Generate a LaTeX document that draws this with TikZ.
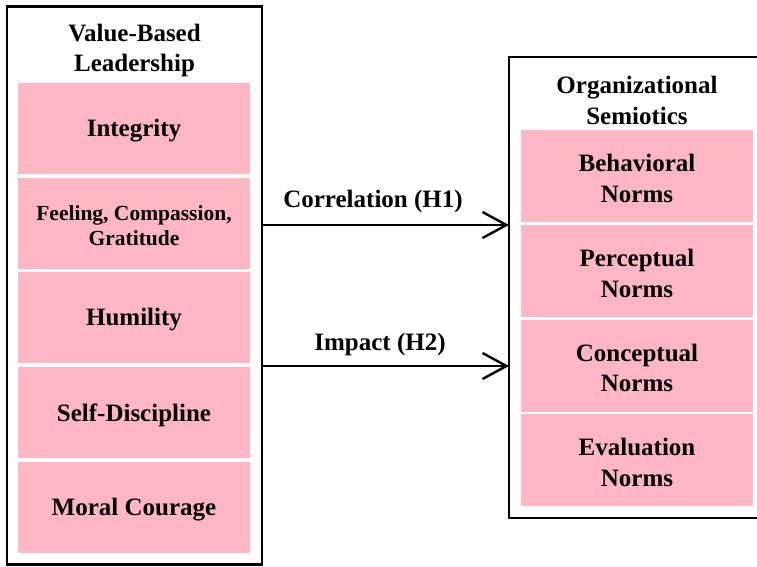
\documentclass[tikz,border=0pt]{standalone}
\usepackage{fontspec}
\setmainfont{Liberation Serif}
\usetikzlibrary{arrows.meta}
\definecolor{boxpink}{RGB}{255,183,195}
\tikzset{
  frame/.style={draw=black, line width=2.6pt, fill=white, inner sep=0pt, outer sep=0pt},
  item/.style={fill=boxpink, draw=none, inner sep=0pt, outer sep=0pt},
  itemtext/.style={align=center, inner sep=0pt, yshift=-2.5pt,
    font=\fontsize{25}{30.5}\selectfont\bfseries},
  small/.style={font=\fontsize{21.5}{24.5}\selectfont\bfseries},
  heading/.style={align=center, inner sep=0pt, font=\fontsize{25}{30.5}\selectfont\bfseries},
  link/.style={line width=2.4pt, -{Straight Barb[length=24pt,width=26pt,line width=2.4pt]}},
  linklabel/.style={inner sep=0pt, font=\fontsize{25}{30}\selectfont\bfseries}
}
\begin{document}
\begin{tikzpicture}[x=1pt,y=-1pt]
\useasboundingbox (0,0) rectangle (757,566);
\clip (0,0) rectangle (757,566);
\fill[white] (0,0) rectangle (757,566);

% left frame: value-based leadership
\node[frame, minimum width=255pt, minimum height=558pt] (vbl) at (134.5,285.5) {};
\node[heading] (vblt) at (134.5,50.5) {Value-Based\\Leadership};
\node[item, minimum width=232pt, minimum height=91pt,
  label={[itemtext]center:Integrity}] (i1) at (134,128.5) {};
\node[item, minimum width=232pt, minimum height=91pt,
  label={[itemtext, small]center:Feeling, Compassion,\\Gratitude}] (i2) at (134,223) {};
\node[item, minimum width=232pt, minimum height=91pt,
  label={[itemtext]center:Humility}] (i3) at (134,317.5) {};
\node[item, minimum width=232pt, minimum height=91pt,
  label={[itemtext]center:Self-Discipline}] (i4) at (134,412.5) {};
\node[item, minimum width=232pt, minimum height=91pt,
  label={[itemtext]center:Moral Courage}] (i5) at (134,507.5) {};

% right frame: organizational semiotics
\node[frame, minimum width=262pt, minimum height=461pt] (os) at (640,287.5) {};
\node[heading] (ost) at (637,100.5) {Organizational\\Semiotics};
\node[item, minimum width=232pt, minimum height=92pt,
  label={[itemtext]center:Behavioral\\Norms}] (n1) at (637,176) {};
\node[item, minimum width=232pt, minimum height=92pt,
  label={[itemtext]center:Perceptual\\Norms}] (n2) at (637,271) {};
\node[item, minimum width=232pt, minimum height=92pt,
  label={[itemtext]center:Conceptual\\Norms}] (n3) at (637,365.5) {};
\node[item, minimum width=232pt, minimum height=92pt,
  label={[itemtext]center:Evaluation\\Norms}] (n4) at (637,460) {};

% hypotheses
\coordinate (h1) at (0,225);
\coordinate (h2) at (0,366);
\draw[link] (vbl.east |- h1) -- (os.west |- h1);
\draw[link] (vbl.east |- h2) -- (os.west |- h2);
\node[linklabel] (h1l) at (373,201) {Correlation (H1)};
\node[linklabel] (h2l) at (380,344) {Impact (H2)};
\end{tikzpicture}
\end{document}
